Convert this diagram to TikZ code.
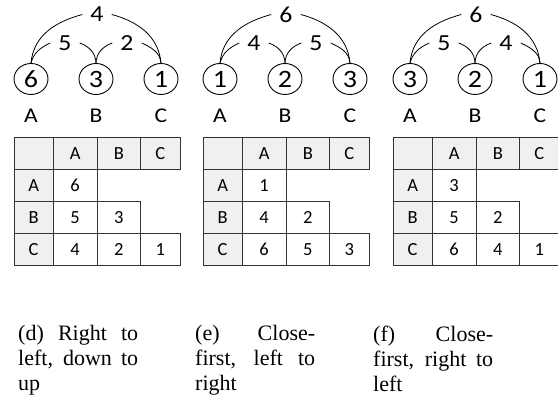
\documentclass[tikz,border=0pt]{standalone}
\usepackage{fontspec}
\setmainfont{Liberation Serif}
\newfontfamily\calibri{Carlito}
\newfontfamily\calibriwide[FakeStretch=1.12]{Carlito}
\usetikzlibrary{shapes.geometric}

\newcommand\mypanel[7]{%
  % #1 prefix, #2 #3 #4 vertex values, #5 top weight, #6 left weight, #7 right weight
  \node[vert] (#1c1) at (17,319) {#2};
  \node[vert] (#1c2) at (82,319) {#3};
  \node[vert] (#1c3) at (147,319) {#4};
  \node[collbl] (#1la) at (17,282) {A};
  \node[collbl] (#1lb) at (82,282) {B};
  \node[collbl] (#1lc) at (147,282) {C};
  \node[wlbl] (#1top) at (83,383.5) {#5};
  \node[wlbl] (#1il) at (51,355) {#6};
  \node[wlbl] (#1ir) at (113,355) {#7};
  \draw[arcline] (#1c1.north) to[out=85,in=195] (#1top.west);
  \draw[arcline] (#1top.east) to[out=-15,in=95] (#1c3.north);
  \draw[arcline] (#1c1.north) to[out=75,in=205] (#1il.west);
  \draw[arcline] (#1il.east) to[out=-20,in=92] (#1c2.north);
  \draw[arcline] (#1c2.north) to[out=88,in=200] (#1ir.west);
  \draw[arcline] (#1ir.east) to[out=-25,in=95] (#1c3.north);
  % table
  \node[hd, minimum width=38.5pt] (#1h0) at (0,261) {};
  \node[hd, minimum width=44.5pt] (#1h1) at (38.5,261) {A};
  \node[hd, minimum width=43pt] (#1h2) at (83,261) {B};
  \node[hd, minimum width=40pt] (#1h3) at (126,261) {C};
  \node[hd, minimum width=38.5pt] (#1ra) at (0,229) {A};
  \node[cell, minimum width=44.5pt] (#1aa) at (38.5,229) {#2};
  \node[hd, minimum width=38.5pt] (#1rb) at (0,197) {B};
  \node[cell, minimum width=44.5pt] (#1ba) at (38.5,197) {#6};
  \node[cell, minimum width=43pt] (#1bb) at (83,197) {#3};
  \node[hd, minimum width=38.5pt] (#1rc) at (0,165) {C};
  \node[cell, minimum width=44.5pt] (#1ca) at (38.5,165) {#5};
  \node[cell, minimum width=43pt] (#1cb) at (83,165) {#7};
  \node[cell, minimum width=40pt] (#1cc) at (126,165) {#4};
}

\begin{document}
\begin{tikzpicture}[x=1pt,y=1pt,
  vert/.style={ellipse, draw, line width=0.9pt, minimum width=34pt, minimum height=31pt, inner sep=0pt, font=\calibriwide\fontsize{25}{25}\selectfont},
  wlbl/.style={inner xsep=8pt, inner ysep=1pt, font=\calibriwide\fontsize{23}{23}\selectfont},
  collbl/.style={font=\calibriwide\fontsize{21}{21}\selectfont},
  arcline/.style={line width=0.8pt},
  cell/.style={draw=black!80, line width=0.8pt, anchor=north west, minimum height=32pt, inner sep=0pt, font=\calibri\fontsize{18.5}{18.5}\selectfont},
  hd/.style={cell, fill=black!6},
  capnode/.style={anchor=north west, inner sep=0pt, align=left, font=\fontsize{22}{25}\selectfont}
]
\useasboundingbox (0,0) rectangle (558,398);
\begin{scope}[xshift=14pt]
  \mypanel{d}{6}{3}{1}{4}{5}{2}
\end{scope}
\begin{scope}[xshift=203pt]
  \mypanel{e}{1}{2}{3}{6}{4}{5}
\end{scope}
\begin{scope}[xshift=393pt]
  \mypanel{f}{3}{2}{1}{6}{5}{4}
\end{scope}
\node[capnode] (capd) at (18,72.5) {\makebox[120pt][s]{(d) Right to}\\\makebox[120pt][s]{left, down to}\\up};
\node[capnode] (cape) at (195,72.5) {\makebox[120pt][s]{(e) Close-}\\\makebox[120pt][s]{first, left to}\\right};
\node[capnode] (capf) at (373,72.5) {\makebox[120pt][s]{(f) Close-}\\\makebox[120pt][s]{first, right to}\\left};
\end{tikzpicture}
\end{document}
